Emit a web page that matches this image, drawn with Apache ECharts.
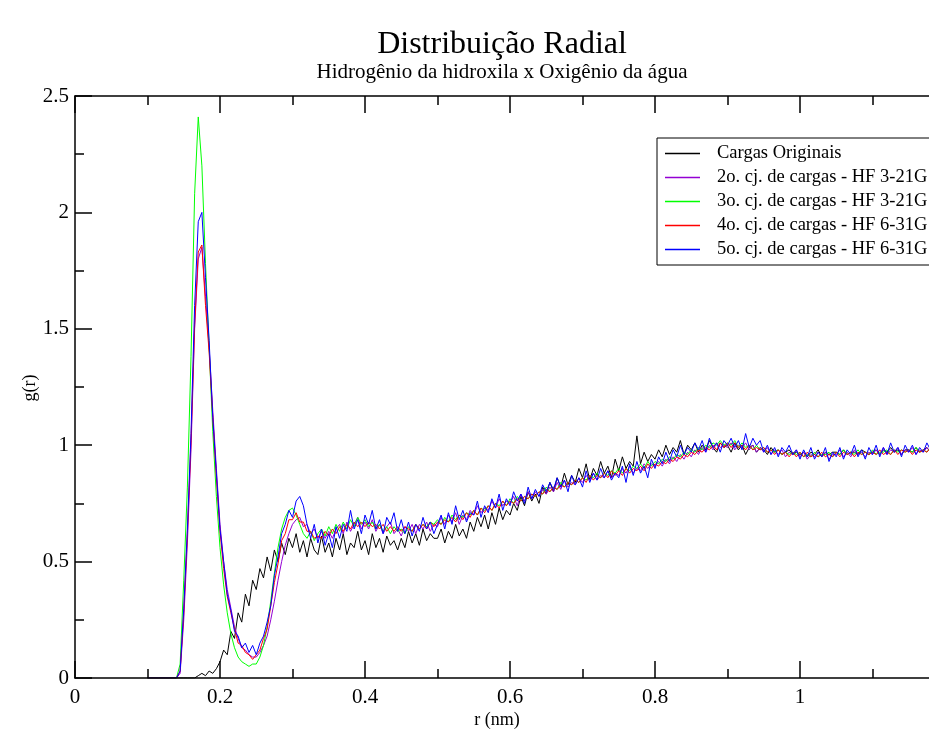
<!DOCTYPE html>
<html>
<head>
<meta charset="utf-8">
<script src="https://cdn.jsdelivr.net/npm/echarts@6/dist/echarts.min.js"></script>
<style>
  html, body { margin: 0; padding: 0; background: #fff; overflow: hidden; }
  #chart { width: 929px; height: 731px; }
</style>
</head>
<body>
<div id="chart"></div>
<script>
// sampling grid of r (nm): starts at 0.100, one value every 0.005
var rStart = 0.1;
var rStep = 0.005;

// g(r), one row = 0.05 nm
var cargasOriginais = [
  0,0,0,0,0,0,0,0,0,0,
  0,0,0,0,0.01,0.02,0.01,0.03,0.02,0.04,
  0.07,0.12,0.1,0.2,0.17,0.28,0.24,0.36,0.31,0.42,
  0.38,0.47,0.43,0.52,0.46,0.55,0.5,0.58,0.53,0.6,
  0.56,0.62,0.54,0.59,0.52,0.6,0.55,0.53,0.61,0.54,
  0.58,0.52,0.6,0.55,0.62,0.53,0.58,0.56,0.63,0.55,
  0.59,0.53,0.62,0.56,0.6,0.54,0.61,0.57,0.59,0.55,
  0.6,0.56,0.63,0.58,0.62,0.57,0.64,0.59,0.62,0.6,
  0.6,0.64,0.58,0.63,0.6,0.66,0.61,0.64,0.6,0.67,
  0.63,0.69,0.65,0.7,0.64,0.71,0.66,0.73,0.68,0.72,
  0.7,0.75,0.72,0.78,0.74,0.8,0.76,0.79,0.75,0.82,
  0.79,0.84,0.8,0.86,0.82,0.88,0.83,0.87,0.84,0.9,
  0.86,0.92,0.85,0.9,0.87,0.93,0.88,0.91,0.86,0.94,
  0.89,0.95,0.9,0.93,0.91,1.04,0.92,0.97,0.93,0.96,
  0.94,0.98,0.95,1.0,0.96,0.99,0.97,1.02,0.96,1.0,
  0.98,1.01,0.97,1.0,0.98,1.02,0.99,0.97,1.01,0.99,
  1.0,0.97,1.01,0.98,1.0,0.96,0.99,1.0,0.97,0.99,
  0.98,0.96,0.99,0.97,0.98,0.96,0.97,0.98,0.96,0.97,
  0.96,0.97,0.95,0.97,0.96,0.98,0.95,0.97,0.96,0.97,
  0.97,0.96,0.98,0.96,0.97,0.97,0.96,0.98,0.97,0.96,
  0.97,0.98,0.96,0.98,0.97,0.99,0.97,0.98,0.96,0.98,
  0.98,0.97,0.99,0.97,0.98,0.99,0.97,0.98,0.97,0.99
];

var cj2_hf321 = [
  0,0,0,0,0,0,0,0,0,0.02,
  0.25,0.58,0.98,1.5,1.8,1.85,1.64,1.42,1.15,0.9,
  0.66,0.5,0.38,0.3,0.22,0.17,0.13,0.12,0.1,0.09,
  0.09,0.11,0.14,0.18,0.25,0.33,0.42,0.5,0.57,0.62,
  0.66,0.68,0.69,0.65,0.66,0.62,0.64,0.6,0.63,0.6,
  0.63,0.6,0.64,0.66,0.62,0.67,0.63,0.66,0.69,0.64,
  0.67,0.64,0.68,0.63,0.66,0.62,0.65,0.67,0.62,0.64,
  0.61,0.65,0.63,0.66,0.62,0.66,0.64,0.67,0.63,0.66,
  0.65,0.69,0.66,0.7,0.67,0.71,0.66,0.7,0.68,0.72,
  0.7,0.74,0.71,0.73,0.72,0.76,0.73,0.77,0.74,0.76,
  0.75,0.78,0.74,0.79,0.76,0.8,0.77,0.8,0.78,0.81,
  0.79,0.82,0.8,0.84,0.81,0.85,0.82,0.84,0.83,0.86,
  0.84,0.87,0.85,0.88,0.85,0.87,0.86,0.89,0.86,0.88,
  0.87,0.9,0.88,0.91,0.88,0.9,0.89,0.92,0.9,0.92,
  0.91,0.93,0.91,0.94,0.92,0.95,0.93,0.96,0.94,0.97,
  0.95,0.98,0.96,0.99,0.97,1.0,0.98,1.01,0.99,1.0,
  0.99,1.01,0.98,1.0,0.99,1.01,0.98,1.0,0.97,0.99,
  0.97,0.99,0.96,0.98,0.96,0.98,0.95,0.97,0.96,0.98,
  0.95,0.97,0.94,0.96,0.95,0.97,0.95,0.97,0.94,0.96,
  0.96,0.98,0.95,0.97,0.95,0.98,0.96,0.97,0.95,0.97,
  0.96,0.98,0.96,0.99,0.96,0.98,0.97,0.99,0.96,0.98,
  0.97,0.99,0.96,0.98,0.97,0.99,0.97,0.98,0.96,0.98
];

var cj3_hf321 = [
  0,0,0,0,0,0,0,0,0,0.06,
  0.42,0.82,1.38,2.08,2.41,2.2,1.78,1.42,1.06,0.78,
  0.56,0.4,0.28,0.19,0.13,0.09,0.07,0.06,0.05,0.06,
  0.06,0.09,0.14,0.22,0.33,0.45,0.56,0.64,0.69,0.72,
  0.73,0.7,0.66,0.62,0.6,0.63,0.59,0.62,0.64,0.61,
  0.65,0.62,0.66,0.63,0.67,0.64,0.68,0.65,0.69,0.66,
  0.68,0.65,0.67,0.64,0.66,0.63,0.65,0.62,0.65,0.63,
  0.64,0.62,0.65,0.63,0.66,0.64,0.66,0.65,0.67,0.66,
  0.68,0.66,0.69,0.67,0.7,0.68,0.7,0.69,0.71,0.7,
  0.72,0.7,0.73,0.72,0.74,0.72,0.75,0.74,0.76,0.74,
  0.77,0.75,0.78,0.76,0.78,0.77,0.79,0.78,0.8,0.79,
  0.82,0.8,0.82,0.81,0.84,0.82,0.84,0.83,0.85,0.84,
  0.86,0.85,0.87,0.86,0.88,0.86,0.88,0.87,0.89,0.88,
  0.9,0.88,0.9,0.89,0.91,0.9,0.92,0.9,0.93,0.91,
  0.93,0.92,0.94,0.93,0.95,0.94,0.96,0.95,0.97,0.96,
  0.98,0.97,0.99,0.98,1.0,0.99,1.01,1.0,1.02,1.0,
  1.01,1.0,1.02,0.99,1.01,0.99,1.0,0.98,1.0,0.98,
  0.99,0.97,0.98,0.97,0.98,0.96,0.97,0.96,0.97,0.96,
  0.97,0.95,0.96,0.95,0.97,0.95,0.96,0.96,0.97,0.95,
  0.97,0.96,0.98,0.96,0.97,0.96,0.98,0.96,0.97,0.96,
  0.98,0.96,0.97,0.97,0.98,0.96,0.98,0.97,0.98,0.97,
  0.98,0.97,0.99,0.97,0.98,0.97,0.99,0.98,0.98,0.97
];

var cj4_hf631 = [
  0,0,0,0,0,0,0,0,0,0.03,
  0.28,0.62,1.02,1.52,1.83,1.86,1.6,1.4,1.12,0.86,
  0.63,0.47,0.35,0.28,0.21,0.15,0.14,0.11,0.1,0.08,
  0.1,0.12,0.17,0.21,0.31,0.41,0.49,0.59,0.62,0.68,
  0.68,0.71,0.67,0.67,0.63,0.63,0.6,0.61,0.6,0.63,
  0.61,0.64,0.62,0.65,0.63,0.66,0.64,0.67,0.65,0.67,
  0.65,0.67,0.65,0.66,0.64,0.66,0.63,0.65,0.63,0.65,
  0.63,0.65,0.64,0.63,0.66,0.64,0.66,0.64,0.67,0.65,
  0.67,0.66,0.68,0.67,0.69,0.67,0.7,0.68,0.71,0.69,
  0.72,0.7,0.73,0.71,0.74,0.72,0.75,0.73,0.76,0.74,
  0.76,0.75,0.77,0.76,0.78,0.77,0.79,0.78,0.8,0.79,
  0.81,0.8,0.82,0.81,0.83,0.82,0.84,0.83,0.85,0.84,
  0.86,0.84,0.87,0.85,0.87,0.86,0.88,0.86,0.89,0.87,
  0.89,0.87,0.9,0.88,0.9,0.89,0.91,0.89,0.92,0.9,
  0.92,0.91,0.93,0.92,0.94,0.93,0.95,0.94,0.96,0.95,
  0.97,0.96,0.98,0.97,0.99,0.98,1.0,0.98,1.01,0.99,
  1.01,0.99,1.01,0.99,1.0,0.98,1.0,0.98,0.99,0.98,
  0.99,0.97,0.98,0.96,0.98,0.96,0.97,0.95,0.97,0.95,
  0.97,0.95,0.97,0.95,0.96,0.95,0.97,0.95,0.96,0.95,
  0.97,0.95,0.97,0.96,0.97,0.95,0.97,0.96,0.97,0.96,
  0.97,0.96,0.98,0.96,0.97,0.96,0.98,0.96,0.98,0.97,
  0.98,0.96,0.98,0.97,0.98,0.97,0.99,0.97,0.98,0.97
];

var cj5_hf631 = [
  0,0,0,0,0,0,0,0,0,0.03,
  0.3,0.64,1.05,1.6,1.96,2.0,1.72,1.45,1.12,0.88,
  0.64,0.5,0.36,0.29,0.2,0.18,0.13,0.15,0.11,0.14,
  0.1,0.15,0.18,0.24,0.31,0.44,0.52,0.62,0.66,0.72,
  0.69,0.76,0.78,0.74,0.66,0.6,0.66,0.58,0.64,0.57,
  0.62,0.56,0.65,0.6,0.66,0.63,0.72,0.64,0.68,0.62,
  0.7,0.66,0.72,0.64,0.68,0.62,0.69,0.66,0.71,0.63,
  0.68,0.62,0.67,0.61,0.66,0.63,0.69,0.64,0.67,0.62,
  0.66,0.7,0.64,0.71,0.66,0.74,0.68,0.72,0.67,0.71,
  0.7,0.76,0.69,0.74,0.71,0.77,0.73,0.79,0.72,0.77,
  0.74,0.8,0.76,0.79,0.75,0.82,0.77,0.81,0.78,0.83,
  0.8,0.84,0.81,0.86,0.82,0.85,0.8,0.87,0.83,0.86,
  0.82,0.89,0.84,0.88,0.85,0.9,0.86,0.89,0.85,0.88,
  0.86,0.91,0.84,0.92,0.87,0.93,0.88,0.91,0.86,0.94,
  0.9,0.95,0.92,0.97,0.93,0.98,0.95,1.0,0.96,0.99,
  0.97,1.01,0.98,1.02,0.97,1.03,0.99,1.01,0.97,1.02,
  1.0,1.03,0.99,1.02,0.98,1.05,0.99,1.03,1.0,1.02,
  0.97,1.0,0.96,0.99,0.95,0.99,0.97,1.0,0.96,0.98,
  0.94,0.98,0.95,0.99,0.94,0.97,0.95,0.99,0.93,0.97,
  0.95,0.99,0.94,0.98,0.96,1.0,0.95,0.98,0.94,0.99,
  0.96,1.0,0.95,0.99,0.96,1.01,0.97,0.99,0.95,1.0,
  0.97,1.0,0.96,0.99,0.97,1.01,0.98,1.0,0.97,0.99
];

var setNames = [
  'Cargas Originais',
  '2o. cj. de cargas - HF 3-21G',
  '3o. cj. de cargas - HF 3-21G',
  '4o. cj. de cargas - HF 6-31G',
  '5o. cj. de cargas - HF 6-31G'
];
var setValues = [cargasOriginais, cj2_hf321, cj3_hf321, cj4_hf631, cj5_hf631];
var setColors = ['#000000', '#9400d3', '#00ff00', '#ff0000', '#0000ff'];

var xTicks = { min: 0, max: 1.2, interval: 0.2 };
var yTicks = { min: 0, max: 2.5, interval: 0.5 };

function pairs(vals) {
  return vals.map(function (v, i) {
    return [+(rStart + i * rStep).toFixed(3), v];
  });
}

var serif = 'Liberation Serif';
var frame = { color: '#000', width: 1.5 };

function makeAxis(ticks, pos, labels, margin) {
  return {
    type: 'value',
    position: pos,
    min: ticks.min,
    max: ticks.max,
    interval: ticks.interval,
    z: 5,
    axisLine: { show: true, onZero: false, lineStyle: frame },
    axisTick: { show: true, inside: true, length: 17, lineStyle: frame },
    minorTick: { show: true, splitNumber: 2, length: 9, lineStyle: frame },
    splitLine: { show: false },
    minorSplitLine: { show: false },
    axisLabel: {
      show: labels,
      margin: margin,
      fontFamily: serif,
      fontSize: 21,
      color: '#000'
    }
  };
}

var chart = echarts.init(document.getElementById('chart'));

var series = setNames.map(function (name, k) {
  return {
    name: name,
    type: 'line',
    data: pairs(setValues[k]),
    symbol: 'none',
    showSymbol: false,
    color: setColors[k],
    lineStyle: { width: 1, color: setColors[k] },
    animation: false
  };
});

chart.setOption({
  backgroundColor: '#fff',
  animation: false,
  // grid is wider than the page: its right part is cut off, as in the original
  grid: { left: 75, top: 96, width: 870, height: 582, containLabel: false, outerBoundsMode: 'none' },
  xAxis: [
    makeAxis(xTicks, 'bottom', true, 9),
    makeAxis(xTicks, 'top', false, 9)
  ],
  yAxis: makeAxis(yTicks, 'left', true, 6),
  legend: {
    orient: 'vertical',
    left: 657,
    top: 138,
    data: setNames,
    icon: 'rect',
    itemWidth: 35,
    itemHeight: 1.5,
    itemGap: 5,
    padding: [6, 60, 6, 8],
    borderColor: '#000',
    borderWidth: 1,
    backgroundColor: '#fff',
    textStyle: { fontFamily: serif, fontSize: 18.5, color: '#000', lineHeight: 18, padding: [0, 0, 0, 12] }
  },
  graphic: [
    { type: 'text', x: 502, y: 45, style: { text: 'Distribuição Radial', font: '32px "Liberation Serif"', fill: '#000', align: 'center', verticalAlign: 'middle' } },
    { type: 'text', x: 502, y: 72, style: { text: 'Hidrogênio da hidroxila x Oxigênio da água', font: '21px "Liberation Serif"', fill: '#000', align: 'center', verticalAlign: 'middle' } },
    { type: 'text', x: 497, y: 720, style: { text: 'r (nm)', font: '18px "Liberation Serif"', fill: '#000', align: 'center', verticalAlign: 'middle' } },
    { type: 'text', x: 30, y: 388, rotation: Math.PI / 2, style: { text: 'g(r)', font: '18px "Liberation Serif"', fill: '#000', align: 'center', verticalAlign: 'middle' } }
  ],
  series: series
});
</script>
</body>
</html>
